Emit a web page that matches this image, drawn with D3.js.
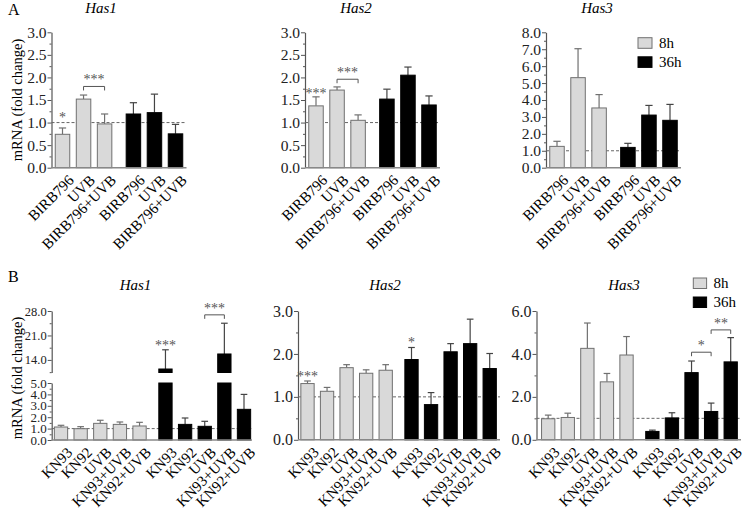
<!DOCTYPE html>
<html><head><meta charset="utf-8">
<script src="https://cdn.jsdelivr.net/npm/d3@7"></script>
<style>
body{margin:0;background:#fff}
svg{display:block}
text{font-family:"Liberation Serif","Times New Roman",serif;}
</style>
</head><body><svg id="c" width="745" height="509"></svg>
<script>
// ---------- DATA ----------
const groups = ["8h", "36h"];
const genes = ["Has1", "Has2", "Has3"];
const catsA = ["BIRB796", "UVB", "BIRB796+UVB"];
const catsB = ["KN93", "KN92", "UVB", "KN93+UVB", "KN92+UVB"];

// Panel A (means and upper error)
const aHas1_8h = [0.74, 1.52, 0.97], aHas1_8h_err = [0.14, 0.09, 0.22];
const aHas1_36h = [1.19, 1.22, 0.75], aHas1_36h_err = [0.25, 0.41, 0.21];
const aHas2_8h = [1.37, 1.72, 1.05], aHas2_8h_err = [0.20, 0.07, 0.12];
const aHas2_36h = [1.52, 2.05, 1.39], aHas2_36h_err = [0.22, 0.18, 0.20];
const aHas3_8h = [1.26, 5.32, 3.53], aHas3_8h_err = [0.30, 1.71, 0.79];
const aHas3_36h = [1.20, 3.11, 2.80], aHas3_36h_err = [0.24, 0.57, 0.94];

// Panel B
const bHas1_8h = [1.14, 0.99, 1.46, 1.37, 1.23], bHas1_8h_err = [0.15, 0.18, 0.27, 0.21, 0.32];
const bHas1_36h = [11.4, 1.37, 1.20, 15.7, 2.69], bHas1_36h_err = [5.5, 0.56, 0.44, 8.8, 1.31];
const bHas2_8h = [1.31, 1.13, 1.68, 1.55, 1.62], bHas2_8h_err = [0.06, 0.09, 0.07, 0.08, 0.13];
const bHas2_36h = [1.87, 0.82, 2.05, 2.24, 1.66], bHas2_36h_err = [0.28, 0.28, 0.19, 0.57, 0.35];
const bHas3_8h = [0.98, 1.04, 4.26, 2.70, 3.95], bHas3_8h_err = [0.17, 0.20, 1.18, 0.39, 0.86];
const bHas3_36h = [0.39, 1.02, 3.13, 1.32, 3.63], bHas3_36h_err = [0.06, 0.24, 0.54, 0.39, 1.13];

// Tick values
const ticksA12 = [0, 0.5, 1, 1.5, 2, 2.5, 3];
const ticksA3 = [0, 1, 2, 3, 4, 5, 6, 7, 8];
const ticksB1upper = [14, 21, 28];
const ticksB1lower = [0, 1, 2, 3, 4, 5];
const ticksB2 = [0, 1, 2, 3];
const ticksB3 = [0, 2, 4, 6];

// Significance marks: group (0=8h,1=36h), bar index / from-to, level (data units)
const sigA1 = [{g:0, i:0, lvl:1.17, t:"*"}, {g:0, from:1, to:2, lvl:1.80, t:"***"}];
const sigA2 = [{g:0, i:0, lvl:1.69, t:"***"}, {g:0, from:1, to:2, lvl:1.96, t:"***"}];
const sigA3 = [];
const sigB1 = [{g:1, i:0, lvl:18.7, t:"***"}, {g:1, from:2, to:3, lvl:26.9, t:"***"}];
const sigB2 = [{g:0, i:0, lvl:1.53, t:"***"}, {g:1, i:0, lvl:2.32, t:"*"}];
const sigB3 = [{g:1, from:2, to:3, lvl:4.08, t:"*"}, {g:1, from:3, to:4, lvl:5.12, t:"**"}];

// ---------- DRAW ----------
const svg = d3.select("#c");
const GREY = "#d9d9d9", GREYSTROKE = "#707070", AXIS = "#555";
const SERIF = '"Liberation Serif","Times New Roman",serif';
const fmt = d3.format(".1f");

function minorOf(major, step) {
  const out = [];
  for (let k = 0; k < major.length - 1; k++) out.push(major[k] + step);
  return out;
}

function drawPanel(cfg) {
  const g = svg.append("g");
  const n = cfg.cats.length;
  const maxPos = 2 * (n - 1) + cfg.gap;
  const x = d3.scaleLinear().domain([0, maxPos]).range([cfg.c0, cfg.c1]);
  const pos = (grp, i) => grp === 0 ? i : n - 1 + cfg.gap + i;
  const segs = cfg.segs.map(s => Object.assign({}, s, {scale: d3.scaleLinear().domain(s.domain).range(s.range)}));
  const lower = segs[0], upper = segs[1];
  const yOf = v => (!upper || v <= lower.domain[1]) ? lower.scale(v) : upper.scale(v);
  const yBottom = lower.scale(0);

  // title
  g.append("text").attr("x", cfg.titleX).attr("y", cfg.titleY).attr("text-anchor", "middle")
    .attr("font-size", 15).attr("font-style", "italic").text(cfg.title);

  // y axes
  segs.forEach(s => {
    const ax = g.append("g").attr("transform", `translate(${cfg.axisX},0)`)
      .call(d3.axisLeft(s.scale).tickValues(s.ticks).tickFormat(fmt).tickSize(4).tickSizeOuter(0).tickPadding(1));
    ax.attr("font-family", SERIF);
    ax.select(".domain").attr("stroke", AXIS).attr("stroke-width", 1.2);
    ax.selectAll(".tick line").attr("stroke", AXIS);
    ax.selectAll(".tick text").attr("font-size", s.fs || 15).attr("fill", "#222")
      .attr("font-family", SERIF);
    if (s.minor) {
      const mx = g.append("g").attr("transform", `translate(${cfg.axisX},0)`)
        .call(d3.axisLeft(s.scale).tickValues(s.minor).tickFormat("").tickSize(2).tickSizeOuter(0));
      mx.select(".domain").remove();
      mx.selectAll(".tick line").attr("stroke", AXIS);
    }
  });

  // dashed reference line at 1.0
  g.append("line").attr("x1", cfg.axisX).attr("x2", cfg.xEnd)
    .attr("y1", yOf(1)).attr("y2", yOf(1))
    .attr("stroke", "#666").attr("stroke-width", 1).attr("stroke-dasharray", "3,2");

  // bars
  const bars = [];
  [[cfg.d8, cfg.e8], [cfg.d36, cfg.e36]].forEach((arr, grp) => {
    arr[0].forEach((v, i) => bars.push({grp, i, v, e: arr[1][i]}));
  });
  const bw = cfg.barW;
  bars.forEach(b => {
    const cx = x(pos(b.grp, b.i));
    const fill = b.grp === 0 ? GREY : "#000";
    const stroke = b.grp === 0 ? GREYSTROKE : "#000";
    const ecol = b.grp === 0 ? "#707070" : "#444";
    const yTop = yOf(b.v), yErr = yOf(b.v + b.e);
    g.append("line").attr("x1", cx).attr("x2", cx).attr("y1", yTop).attr("y2", yErr)
      .attr("stroke", ecol).attr("stroke-width", 1.2);
    g.append("line").attr("x1", cx - bw / 4).attr("x2", cx + bw / 4).attr("y1", yErr).attr("y2", yErr)
      .attr("stroke", ecol).attr("stroke-width", 1.2);
    if (upper && b.v > lower.domain[1]) {
      g.append("rect").attr("x", cx - bw / 2).attr("width", bw)
        .attr("y", lower.scale(lower.domain[1])).attr("height", yBottom - lower.scale(lower.domain[1]))
        .attr("fill", fill).attr("stroke", stroke).attr("stroke-width", 1);
      g.append("rect").attr("x", cx - bw / 2).attr("width", bw)
        .attr("y", upper.scale(b.v)).attr("height", upper.scale(upper.domain[0]) - upper.scale(b.v))
        .attr("fill", fill).attr("stroke", stroke).attr("stroke-width", 1);
    } else {
      g.append("rect").attr("x", cx - bw / 2).attr("width", bw)
        .attr("y", yTop).attr("height", yBottom - yTop)
        .attr("fill", fill).attr("stroke", stroke).attr("stroke-width", 1);
    }
  });

  // x axis
  g.append("line").attr("x1", cfg.axisX).attr("x2", cfg.xEnd).attr("y1", yBottom).attr("y2", yBottom)
    .attr("stroke", "#888").attr("stroke-width", 1.6);

  // x labels
  bars.forEach(b => {
    const cx = x(pos(b.grp, b.i));
    g.append("text").attr("transform", `translate(${cx + 5},${yBottom + 6}) rotate(-45)`)
      .attr("text-anchor", "end").attr("dy", "0.7em").attr("font-size", cfg.labelSize)
      .text(cfg.cats[b.i]);
  });

  // significance
  cfg.sig.forEach(s => {
    if (s.from !== undefined) {
      const xa = x(pos(s.g, s.from)), xb = x(pos(s.g, s.to)), yy = yOf(s.lvl);
      g.append("path").attr("d", `M${xa},${yy + 4}V${yy}H${xb}V${yy + 4}`)
        .attr("fill", "none").attr("stroke", "#555").attr("stroke-width", 1);
      g.append("text").attr("x", (xa + xb) / 2).attr("y", yy - 9).attr("dy", 7)
        .attr("text-anchor", "middle").attr("font-size", 14).attr("fill", "#555").text(s.t);
    } else {
      const cx = x(pos(s.g, s.i));
      g.append("text").attr("x", cx).attr("y", yOf(s.lvl)).attr("dy", 7)
        .attr("text-anchor", "middle").attr("font-size", 14).attr("fill", "#555").text(s.t);
    }
  });
}

function legend(xs, y8, h, w) {
  const lg = svg.append("g");
  groups.forEach((name, k) => {
    lg.append("rect").attr("x", xs).attr("y", y8 + k * (h + 8.5)).attr("width", w).attr("height", h)
      .attr("fill", k === 0 ? GREY : "#000").attr("stroke", k === 0 ? GREYSTROKE : "#000");
    lg.append("text").attr("x", xs + w + 7).attr("y", y8 + k * (h + 8.5) + h - 0.5)
      .attr("font-size", 15).text(name);
  });
}

function yLabel(cy) {
  svg.append("text").attr("transform", `translate(22,${cy}) rotate(-90)`)
    .attr("text-anchor", "middle").attr("font-size", 14.5).text("mRNA (fold change)");
}

// Panel letters
svg.append("text").attr("x", 8).attr("y", 15).attr("font-size", 16).text("A");
svg.append("text").attr("x", 8).attr("y", 282).attr("font-size", 16).text("B");
yLabel(100);
yLabel(378);

const rangeA = [167.7, 32.3];
const rangeB = [439.8, 311];

const panelsA = [
  {title: genes[0], axisX: 51.5, d8: aHas1_8h, e8: aHas1_8h_err, d36: aHas1_36h, e36: aHas1_36h_err,
   ticks: ticksA12, minorStep: 0.25, max: 3, sig: sigA1, titleX: 101},
  {title: genes[1], axisX: 305, d8: aHas2_8h, e8: aHas2_8h_err, d36: aHas2_36h, e36: aHas2_36h_err,
   ticks: ticksA12, minorStep: 0.25, max: 3, sig: sigA2, titleX: 356},
  {title: genes[2], axisX: 546, d8: aHas3_8h, e8: aHas3_8h_err, d36: aHas3_36h, e36: aHas3_36h_err,
   ticks: ticksA3, minorStep: 0.5, max: 8, sig: sigA3, titleX: 597}
];
panelsA.forEach(p => drawPanel({
  title: p.title, titleX: p.titleX, titleY: 13, cats: catsA, gap: 1.37,
  axisX: p.axisX, xEnd: p.axisX + 135, c0: p.axisX + 11, c1: p.axisX + 124, barW: 14.5,
  d8: p.d8, e8: p.e8, d36: p.d36, e36: p.e36, labelSize: 15, sig: p.sig,
  segs: [{domain: [0, p.max], range: rangeA, ticks: p.ticks, minor: minorOf(p.ticks, p.minorStep), fs: 15.5}]
}));

drawPanel({
  title: genes[0], titleX: 135.5, titleY: 290, cats: catsB, gap: 1.32,
  axisX: 51.7, xEnd: 252, c0: 61, c1: 244, barW: 13.3,
  d8: bHas1_8h, e8: bHas1_8h_err, d36: bHas1_36h, e36: bHas1_36h_err, labelSize: 15, sig: sigB1,
  segs: [
    {domain: [0, 5], range: [440, 383], ticks: ticksB1lower, minor: minorOf(ticksB1lower, 0.5), fs: 13},
    {domain: [10.4, 28], range: [372.5, 311], ticks: ticksB1upper, minor: [10.5, 17.5, 24.5], fs: 12.5}
  ]
});
drawPanel({
  title: genes[1], titleX: 385, titleY: 290, cats: catsB, gap: 1.32,
  axisX: 298, xEnd: 500, c0: 307.5, c1: 489.7, barW: 13.3,
  d8: bHas2_8h, e8: bHas2_8h_err, d36: bHas2_36h, e36: bHas2_36h_err, labelSize: 15, sig: sigB2,
  segs: [{domain: [0, 3], range: rangeB, ticks: ticksB2, minor: minorOf(ticksB2, 0.5), fs: 16}]
});
drawPanel({
  title: genes[2], titleX: 624, titleY: 290, cats: catsB, gap: 1.32,
  axisX: 536.5, xEnd: 741, c0: 548.2, c1: 730.7, barW: 13.3,
  d8: bHas3_8h, e8: bHas3_8h_err, d36: bHas3_36h, e36: bHas3_36h_err, labelSize: 15, sig: sigB3,
  segs: [{domain: [0, 6], range: rangeB, ticks: ticksB3, minor: minorOf(ticksB3, 1), fs: 16}]
});

legend(638, 37.7, 10.6, 14);
legend(693.3, 278, 10.5, 13.3);
</script></body></html>
